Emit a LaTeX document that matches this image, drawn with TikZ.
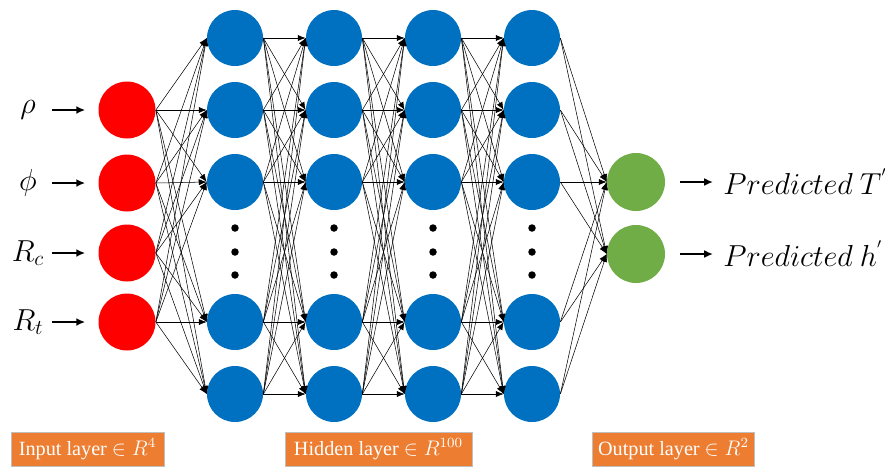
\documentclass[tikz,border=0pt]{standalone}
\usepackage{fontspec}
\setmainfont{Liberation Serif}
\usetikzlibrary{arrows.meta}
\definecolor{inred}{RGB}{255,0,0}
\definecolor{hidblue}{RGB}{0,112,192}
\definecolor{outgreen}{RGB}{112,173,71}
\definecolor{boxorange}{RGB}{237,125,49}

\begin{document}
\begin{tikzpicture}[x=0.02cm,y=-0.02cm]
\tikzstyle{inp}=[circle,fill=inred,minimum size=1.14cm,inner sep=0pt];
\tikzstyle{hid}=[circle,fill=hidblue,minimum size=1.12cm,inner sep=0pt];
\tikzstyle{outp}=[circle,fill=outgreen,minimum size=1.16cm,inner sep=0pt];
\tikzstyle{dot}=[circle,fill=black,minimum size=0.15cm,inner sep=0pt];
\tikzstyle{link}=[-{Latex[length=4.5pt,width=3.5pt]},line width=0.3pt];
\tikzstyle{feed}=[-{Latex[length=5pt,width=4.5pt]},line width=1.3pt];
\tikzstyle{var}=[minimum width=0.7cm,inner sep=0pt,font=\fontsize{18}{21}\selectfont];
\tikzstyle{pred}=[anchor=west,inner sep=0pt,font=\fontsize{16}{19}\selectfont];
\tikzstyle{layer}=[fill=boxorange,draw=gray!50,minimum height=0.68cm,text=white,font=\fontsize{11.5}{13}\selectfont];
\useasboundingbox (0,0) rectangle (885,468);

% input layer
\node [inp] (i1) at (127,110) {};
\node [inp] (i2) at (127,183) {};
\node [inp] (i3) at (127,253) {};
\node [inp] (i4) at (127,322) {};
\node [var] (x1) at (28,110) {$\rho$};
\node [var] (x2) at (28,183) {$\phi$};
\node [var] (x3) at (28,253) {$R_c$};
\node [var] (x4) at (28,322) {$R_t$};
\foreach \i in {1,...,4}
  \draw [feed,shorten <=0.13cm,shorten >=0.26cm] (x\i.east) -- (i\i.west);

% hidden layers
\foreach \c/\x in {1/235,2/334,3/433,4/532} {
  \foreach \r/\y in {1/38,2/110,3/182,4/322,5/394}
    \node [hid] (h\c\r) at (\x,\y) {};
  \foreach \y in {228,252,275}
    \node [dot] (d\c\y) at (\x,\y) {};
}

% output layer
\node [outp] (o1) at (636,182) {};
\node [outp] (o2) at (636,254) {};
\node [pred] (y1) at (723,182) {$Predicted\ T^{'}$};
\node [pred] (y2) at (723,254) {$Predicted\ h^{'}$};
\foreach \s in {1,2}
  \draw [feed,shorten <=0.3cm,shorten >=0.2cm] (o\s.east) -- (y\s.west);

% connections
\foreach \i in {1,...,4}
  \foreach \s in {1,...,5}
    \draw [link] (i\i.east) -- (h1\s.west);
\foreach \c/\n in {1/2,2/3,3/4}
  \foreach \r in {1,...,5}
    \foreach \s in {1,...,5}
      \draw [link] (h\c\r.east) -- (h\n\s.west);
\foreach \r in {1,...,5}
  \foreach \s in {1,2}
    \draw [link] (h4\r.east) -- (o\s.west);

% layer captions
\node [layer,minimum width=3.06cm] (b1) at (87.5,449) {Input layer $\in R^4$};
\node [layer,minimum width=3.74cm] (b2) at (378.5,449) {Hidden layer $\in R^{100}$};
\node [layer,minimum width=3.22cm] (b3) at (673.5,449) {Output layer $\in R^2$};
\end{tikzpicture}
\end{document}
